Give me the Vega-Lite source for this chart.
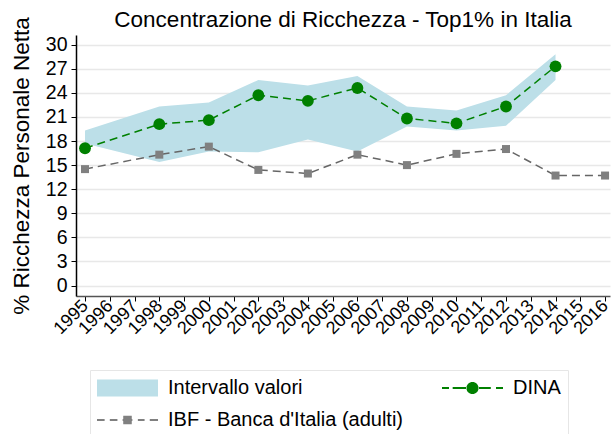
{
  "$schema": "https://vega.github.io/schema/vega-lite/v6.json",
  "width": 534,
  "height": 261,
  "autosize": {"type": "none"},
  "padding": {"left": 76, "top": 35, "right": 1, "bottom": 138},
  "config": {
    "font": "Liberation Sans",
    "view": {"stroke": null},
    "axis": {"labelColor": "black", "titleColor": "black", "labelFont": "Liberation Sans", "titleFont": "Liberation Sans"}
  },
  "title": {"text": "Concentrazione di Ricchezza - Top1% in Italia", "fontSize": 22.5, "fontWeight": "normal", "color": "black", "anchor": "middle", "frame": "group", "offset": -15},
  "datasets": {
    "main": [
      {"year": 1995, "dina": 17.1, "low": 17.7, "high": 19.3, "ibf": 14.5},
      {"year": 1998, "dina": 20.1, "low": 15.4, "high": 22.3, "ibf": 16.3},
      {"year": 2000, "dina": 20.6, "low": 16.7, "high": 22.8, "ibf": 17.3},
      {"year": 2002, "dina": 23.7, "low": 16.6, "high": 25.6, "ibf": 14.4},
      {"year": 2004, "dina": 23.0, "low": 18.2, "high": 24.9, "ibf": 13.95},
      {"year": 2006, "dina": 24.6, "low": 16.7, "high": 26.1, "ibf": 16.3},
      {"year": 2008, "dina": 20.8, "low": 19.8, "high": 22.3, "ibf": 15.0},
      {"year": 2010, "dina": 20.2, "low": 19.3, "high": 21.8, "ibf": 16.4},
      {"year": 2012, "dina": 22.3, "low": 19.9, "high": 23.7, "ibf": 17.0},
      {"year": 2014, "dina": 27.3, "low": 25.6, "high": 28.8, "ibf": 13.7},
      {"year": 2016, "dina": null, "low": null, "high": null, "ibf": 13.7}
    ],
    "legend": [
      {"series": "Intervallo valori"},
      {"series": "DINA"},
      {"series": "IBF - Banca d'Italia (adulti)"}
    ]
  },
  "data": {"name": "main"},
  "encoding": {
    "x": {
      "field": "year", "type": "quantitative",
      "scale": {"domain": [1994.636, 2016.2], "nice": false, "zero": false},
      "axis": {
        "title": null, "values": [1995,1996,1997,1998,1999,2000,2001,2002,2003,2004,2005,2006,2007,2008,2009,2010,2011,2012,2013,2014,2015,2016],
        "tickCount": 40,
        "format": "d", "labelAngle": -45, "labelFontSize": 18, "labelAlign": "right", "labelBaseline": "middle",
        "grid": false, "tickSize": 5, "tickColor": "black", "domainColor": "#555555", "domainWidth": 1.5, "labelPadding": 2, "labelOverlap": false, "labelFlush": false
      }
    }
  },
  "layer": [
    {
      "transform": [{"filter": "datum.low != null"}],
      "mark": {"type": "area", "color": "#bcdfe8", "opacity": 1},
      "encoding": {
        "y": {
          "field": "low", "type": "quantitative",
          "scale": {"domain": [-1.3, 31.2], "nice": false, "zero": false},
          "axis": {
            "title": "% Ricchezza Personale Netta", "titleFontSize": 22.5, "titleFontWeight": "normal", "titlePadding": 12,
            "values": [0,3,6,9,12,15,18,21,24,27,30], "tickCount": 40, "labelFontSize": 19.5, "tickSize": 5, "tickColor": "black", "labelOverlap": false,
            "domainColor": "black", "domainWidth": 1.5, "gridColor": "#e8e8e8", "gridWidth": 1.5, "labelPadding": 4
          }
        },
        "y2": {"field": "high"}
      }
    },
    {
      "transform": [{"filter": "datum.dina != null"}],
      "mark": {"type": "line", "color": "#008000", "strokeDash": [8, 5], "strokeWidth": 1.5},
      "encoding": {"y": {"field": "dina", "type": "quantitative"}}
    },
    {
      "transform": [{"filter": "datum.dina != null"}],
      "mark": {"type": "point", "shape": "circle", "filled": true, "color": "#008000", "opacity": 1, "size": 140},
      "encoding": {"y": {"field": "dina", "type": "quantitative"}}
    },
    {
      "mark": {"type": "line", "color": "#666666", "strokeDash": [8, 5], "strokeWidth": 1.5},
      "encoding": {"y": {"field": "ibf", "type": "quantitative"}}
    },
    {
      "mark": {"type": "point", "shape": "square", "filled": true, "color": "#808080", "opacity": 1, "size": 64},
      "encoding": {"y": {"field": "ibf", "type": "quantitative"}}
    },
    {
      "data": {"name": "legend"},
      "mark": {"type": "point", "filled": true, "opacity": 1},
      "encoding": {
        "y": {"field": "ibf", "type": "quantitative"},
        "color": {
          "field": "series", "type": "nominal",
          "scale": {"domain": ["Intervallo valori", "DINA", "IBF - Banca d'Italia (adulti)"], "range": ["#bcdfe8", "#008000", "#808080"]},
          "legend": {
            "title": null, "orient": "none", "legendX": 14, "legendY": 335, "direction": "horizontal", "columns": 2,
            "labelFontSize": 20, "labelColor": "black", "labelOffset": 10, "labelLimit": 500, "symbolSize": 3721, "clipHeight": 22,
            "symbolStrokeWidth": 0, "symbolOpacity": 1,
            "columnPadding": 38, "rowPadding": 10, "padding": 7,
            "fillColor": "white", "strokeColor": "#e6e6e6"
          }
        },
        "shape": {
          "field": "series", "type": "nominal",
          "scale": {
            "domain": ["Intervallo valori", "DINA", "IBF - Banca d'Italia (adulti)"],
            "range": [
              "M-1,-0.279H1V0.279H-1Z",
              "M-1,-0.03H-0.77V0.03H-1Z M-0.65,-0.03H-0.18V0.03H-0.65Z M0.18,-0.03H0.6V0.03H0.18Z M0.77,-0.03H1V0.03H0.77Z M-0.2,0A0.2,0.2,0,1,0,0.2,0A0.2,0.2,0,1,0,-0.2,0Z",
              "M-1,-0.03H-0.75V0.03H-1Z M-0.58,-0.03H-0.33V0.03H-0.58Z M-0.16,-0.03H0.16V0.03H-0.16Z M-0.14,-0.14H0.14V0.14H-0.14Z M0.34,-0.03H0.56V0.03H0.34Z M0.73,-0.03H1V0.03H0.73Z"
            ]
          },
          "legend": {
            "title": null, "orient": "none", "legendX": 14, "legendY": 335, "direction": "horizontal", "columns": 2,
            "labelFontSize": 20, "labelColor": "black", "labelOffset": 10, "labelLimit": 500, "symbolSize": 3721, "clipHeight": 22,
            "symbolStrokeWidth": 0, "symbolOpacity": 1,
            "columnPadding": 38, "rowPadding": 10, "padding": 7,
            "fillColor": "white", "strokeColor": "#e6e6e6"
          }
        }
      }
    }
  ]
}
